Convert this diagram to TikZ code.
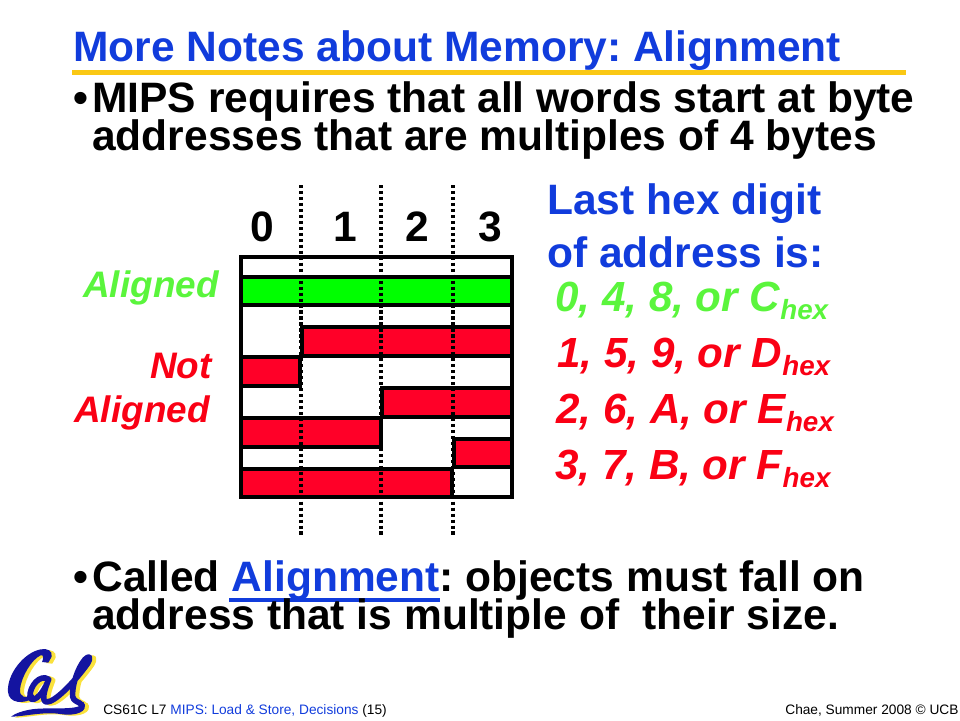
\documentclass[tikz,border=0pt]{standalone}
\usepackage{fontspec}
\setmainfont{Liberation Sans}
\frenchspacing
\definecolor{titleblue}{RGB}{17,60,220}
\definecolor{notred}{RGB}{250,0,20}
\definecolor{boxred}{RGB}{255,0,40}
\definecolor{okgreen}{RGB}{0,255,0}
\definecolor{labgreen}{RGB}{90,245,60}
\definecolor{rulegold}{RGB}{250,200,20}
\definecolor{calblue}{RGB}{20,20,160}
\definecolor{calgold}{RGB}{250,225,60}
\newcommand{\sized}[1]{\fontsize{#1}{#1}\selectfont}
\newcommand{\hexsub}{\raisebox{-5pt}{\sized{15.8}hex}}
\newcommand{\calshape}[1]{
        \fill[#1] (155,50) .. controls (158,32) and (142,24) .. (122,28) .. controls (70,38) and (20,105) .. (24,155) .. controls (26,190) and (70,195) .. (105,172) -- (100,163) .. controls (75,178) and (58,170) .. (60,148) .. controls (64,110) and (95,58) .. (122,46) .. controls (132,42) and (130,58) .. (126,66) -- (145,68) -- cycle;
        \draw[calstroke=#1] (146,118) .. controls (120,100) and (88,140) .. (90,170) .. controls (92,190) and (125,175) .. (146,118) .. controls (135,145) and (122,185) .. (140,186) .. controls (165,186) and (220,130) .. (262,72) .. controls (275,50) and (268,45) .. (255,58) .. controls (232,85) and (215,140) .. (218,170) .. controls (220,185) and (238,185) .. (246,195);
        \fill[#1] (250,186) .. controls (245,215) and (150,200) .. (95,208) .. controls (70,212) and (45,220) .. (33,230) .. controls (70,230) and (130,214) .. (180,222) .. controls (225,230) and (270,215) .. (250,186) -- cycle;
}
\tikzset{
  word/.style={draw,line width=1.9pt},
  addrline/.style={line width=1.9pt,dash pattern=on 1.8pt off 1.6pt},
  lab/.style={inner sep=0pt,anchor=base west,font=\bfseries\sized{24.2}},
  hexlab/.style={inner sep=0pt,anchor=base west,font=\bfseries\itshape\sized{24}},
  sidelab/.style={inner sep=0pt,anchor=base west,font=\bfseries\itshape\sized{21}},
  foot/.style={inner sep=0pt,anchor=base west,font=\sized{7.8}},
  calstroke/.style={line width=3.2pt,line cap=round,line join=round,color=#1}
}
\begin{document}
\begin{tikzpicture}[x=0.02cm,y=-0.02cm]
        \useasboundingbox (0,0) rectangle (960,720);
        \node[lab,titleblue] (title) at (73,61) {More Notes about Memory: Alignment};
        \fill[rulegold] (72,70) rectangle (906,75);
        \node[lab] (bulleta) at (73,112) {•};
        \node[lab] (mips) at (92,112) {MIPS requires that all words start at byte};
        \node[lab] (addr) at (92,150) {addresses that are multiples of 4 bytes};
        \node[lab,titleblue] (last) at (547,214) {Last hex digit};
        \node[lab,titleblue] (ofaddr) at (547,267) {of address is:};
        % digits and side labels
        \node[lab] (d0) at (250,241) {0};
        \node[lab] (d1) at (333,241) {1};
        \node[lab] (d2) at (405,241) {2};
        \node[lab] (d3) at (478,241) {3};
        \node[sidelab,labgreen] (aligned) at (83,297) {Aligned};
        \node[sidelab,notred] (nota) at (150,378) {Not};
        \node[sidelab,notred] (notb) at (74,422) {Aligned};
        % memory box
        \draw[word,fill=white] (241,257) rectangle (512,497);
        \draw[word,fill=okgreen] (241,277) rectangle (512,305);
        \draw[word,fill=boxred] (302,327) rectangle (512,356);
        \draw[word,fill=boxred] (241,357) rectangle (300,386);
        \draw[word,fill=boxred] (382,388) rectangle (512,417);
        \draw[word,fill=boxred] (241,418) rectangle (381,447);
        \draw[word,fill=boxred] (454,439) rectangle (512,467);
        \draw[word,fill=boxred] (241,469) rectangle (452,497);
        \draw[addrline] (301,185) -- (301,535);
        \draw[addrline] (381,185) -- (381,535);
        \draw[addrline] (453,185) -- (453,535);
        % hex digits
        \node[hexlab,labgreen] (hexa) at (555,311) {0, 4, 8, or C\hexsub};
        \node[hexlab,notred] (hexb) at (557,367) {1, 5, 9, or D\hexsub};
        \node[hexlab,notred] (hexc) at (556,423) {2, 6, A, or E\hexsub};
        \node[hexlab,notred] (hexd) at (555,479) {3, 7, B, or F\hexsub};
        % bottom text
        \node[lab] (bulletb) at (73,591) {•};
        \node[lab] (called) at (92,591) {Called \textcolor{titleblue}{Alignment}: objects must fall on};
        \fill[titleblue] (229,597.5) rectangle (440,601.5);
        \node[lab] (size) at (92,629) {address that is multiple of\ \ their size.};
        % logo
        \begin{scope}[shift={(4,641)},x=0.00667cm,y=-0.00667cm]
        \calshape{calgold}
        \end{scope}
        \begin{scope}[shift={(0,640)},x=0.00667cm,y=-0.00667cm]
        \calshape{calblue}
        \end{scope}
        % footer
        \node[foot] (course) at (103,714) {CS61C L7 \textcolor{titleblue}{MIPS: Load \& Store, Decisions} (15)};
        \node[foot] (credit) at (785,714) {Chae, Summer 2008 © UCB};
\end{tikzpicture}
\end{document}
